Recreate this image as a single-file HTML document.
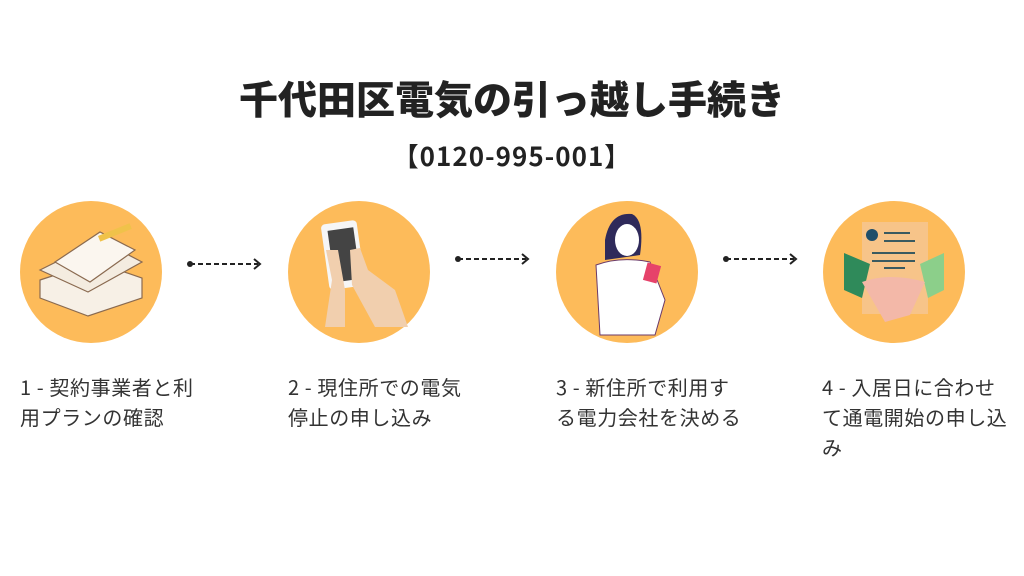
<!DOCTYPE html>
<html><head><meta charset="utf-8"><style>
html,body{margin:0;padding:0;background:#fff;}
body{width:1024px;height:576px;position:relative;overflow:hidden;font-family:"Liberation Sans","Noto Sans CJK JP",sans-serif;color:#222;}
.t{position:absolute;left:0;width:1024px;text-align:center;font-weight:900;}
.lab{position:absolute;top:372px;font-size:20px;letter-spacing:0.6px;line-height:30px;color:#333;white-space:nowrap;font-family:"Noto Sans CJK JP",sans-serif;}
</style></head><body>
<div class="t" style="top:72px;font-size:39px;line-height:52px;font-family:'Noto Sans CJK JP',sans-serif;">千代田区電気の引っ越し手続き</div>
<div class="t" style="top:139px;font-size:26px;letter-spacing:1px;line-height:34px;font-weight:700;font-family:'Noto Sans CJK JP',sans-serif;">【0120-995-001】</div>
<svg width="1024" height="576" style="position:absolute;left:0;top:0">
<g fill="#fdbb5a">
<circle cx="91" cy="272" r="71"/><circle cx="359" cy="272" r="71"/><circle cx="627" cy="272" r="71"/><circle cx="894" cy="272" r="71"/>
</g>
<g stroke="#222" stroke-width="2" fill="none">
<line x1="190" y1="264" x2="258" y2="264" stroke-dasharray="5,3"/><polyline points="254,259 260,264 254,269"/>
<line x1="458" y1="259" x2="526" y2="259" stroke-dasharray="5,3"/><polyline points="522,254 528,259 522,264"/>
<line x1="726" y1="259" x2="794" y2="259" stroke-dasharray="5,3"/><polyline points="790,254 796,259 790,264"/>
</g>
<g fill="#222"><circle cx="190" cy="264" r="3"/><circle cx="458" cy="259" r="3"/><circle cx="726" cy="259" r="3"/></g>
<g stroke="#8a6a50" stroke-width="1.2">
<polygon points="40,280 95,262 142,278 142,298 88,316 40,298" fill="#f7f0e6"/>
<polygon points="40,270 100,240 142,262 88,292" fill="#f4ece0"/>
<polygon points="55,262 100,232 135,250 90,282" fill="#fbf6ef"/>
<rect x="0" y="0" width="34" height="6" fill="#f0c24a" stroke="none" transform="translate(98,236) rotate(-22)"/>
</g>
<g>
<rect x="325" y="222" width="36" height="66" rx="4" fill="#f6f6f6" transform="rotate(-8 343 255)"/>
<rect x="331" y="229" width="26" height="52" fill="#444" transform="rotate(-8 343 255)"/>
<path d="M350 250 L360 248 L368 270 L395 290 L408 327 L375 327 L352 285 Z" fill="#f1cfae"/>
<path d="M326 250 L332 280 L325 327 L345 327 L345 290 L338 250 Z" fill="#f1cfae"/>
</g>
<g>
<path d="M605 240 Q610 212 632 214 Q645 220 640 255 L605 260 Z" fill="#2f2a5a"/>
<ellipse cx="627" cy="240" rx="12" ry="16" fill="#fff"/>
<path d="M596 265 Q620 256 650 262 L665 300 L655 335 L600 335 Z" fill="#fff" stroke="#6a3a6a" stroke-width="1"/>
<rect x="645" y="264" width="14" height="18" fill="#e6426a" transform="rotate(15 652 273)"/>
</g>
<g>
<rect x="862" y="222" width="66" height="92" fill="#f7c489"/>
<circle cx="872" cy="235" r="6" fill="#1f4e6a"/>
<g stroke="#3a5a60" stroke-width="2"><line x1="884" y1="233" x2="910" y2="233"/><line x1="884" y1="241" x2="915" y2="241"/><line x1="872" y1="253" x2="915" y2="253"/><line x1="872" y1="261" x2="915" y2="261"/><line x1="884" y1="268" x2="905" y2="268"/></g>
<polygon points="844,253 870,264 862,298 844,290" fill="#2f8a5a"/>
<polygon points="944,253 920,264 928,298 944,290" fill="#8ccf8a"/>
<path d="M862 282 Q890 272 925 282 L910 315 L885 322 Z" fill="#f3b8a8"/>
</g>
</svg>
<div class="lab" style="left:20px">1 - 契約事業者と利<br>用プランの確認</div>
<div class="lab" style="left:288px">2 - 現住所での電気<br>停止の申し込み</div>
<div class="lab" style="left:556px">3 - 新住所で利用す<br>る電力会社を決める</div>
<div class="lab" style="left:822px">4 - 入居日に合わせ<br>て通電開始の申し込<br>み</div>
</body></html>
